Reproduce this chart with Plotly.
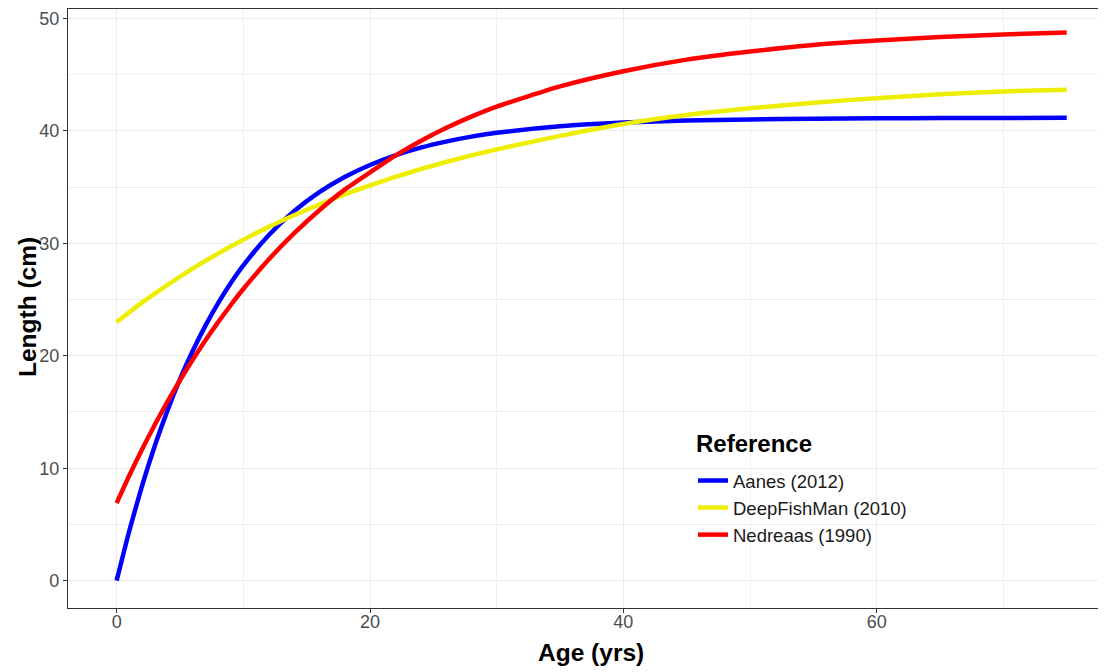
import plotly.graph_objects as go

# Ages (years)
ages = [0, 1, 2, 3, 4, 5, 6, 7, 8, 9, 10, 12, 14, 16, 18, 20, 22, 24, 26, 28,
        30, 35, 40, 45, 50, 55, 60, 65, 70, 75]

# Length (cm) per reference
aanes_2012 = [0.0, 4.44, 8.41, 11.95, 15.10, 17.91, 20.42, 22.66, 24.66, 26.44,
              28.03, 30.71, 32.84, 34.54, 35.89, 36.96, 37.82, 38.50, 39.04, 39.48,
              39.82, 40.40, 40.73, 40.91, 41.01, 41.07, 41.11, 41.13, 41.14, 41.15]
deepfishman_2010 = [23.0, 23.87, 24.72, 25.52, 26.29, 27.03, 27.75, 28.43, 29.08, 29.71,
                    30.31, 31.45, 32.49, 33.45, 34.34, 35.15, 35.90, 36.59, 37.23, 37.81,
                    38.35, 39.55, 40.60, 41.40, 42.00, 42.50, 42.90, 43.25, 43.50, 43.65]
nedreaas_1990 = [6.9, 9.35, 11.66, 13.84, 15.89, 17.82, 19.64, 21.36, 22.97, 24.49,
                 25.93, 28.55, 30.87, 32.94, 34.77, 36.30, 37.80, 39.10, 40.25, 41.26,
                 42.15, 43.95, 45.30, 46.33, 47.05, 47.63, 48.02, 48.34, 48.57, 48.73]

series_names = ["Aanes (2012)", "DeepFishMan (2010)", "Nedreaas (1990)"]
series_values = [aanes_2012, deepfishman_2010, nedreaas_1990]
series_colors = ["#0000FF", "#EEEE00", "#FF0000"]

x_tickvals = [0, 20, 40, 60]
x_ticktext = ["0", "20", "40", "60"]
y_tickvals = [0, 10, 20, 30, 40, 50]
y_ticktext = ["0", "10", "20", "30", "40", "50"]

FONT = "Liberation Sans, Arial, sans-serif"
# page body has an 8px margin; figure positioned to compensate
W, H = 1098, 664
ML, MR, MT, MB = 60, 0, 1, 64
OFF = 8
pw = W - ML - MR
ph = H - MT - MB


def px_x(sx):
    """screen x (window px) -> paper x"""
    return (sx - OFF - ML) / pw


def px_y(sy):
    """screen y (window px) -> paper y"""
    return (H - MB - (sy - OFF)) / ph


fig = go.Figure()
for name, vals, col in zip(series_names, series_values, series_colors):
    fig.add_trace(go.Scatter(
        x=ages, y=vals, mode="lines", name=name,
        line=dict(color=col, width=4.5, shape="spline", smoothing=0.6),
    ))

fig.update_layout(
    width=W, height=H,
    margin=dict(l=ML, r=MR, t=MT, b=MB, autoexpand=False),
    paper_bgcolor="white", plot_bgcolor="white",
    font=dict(family=FONT, size=18, color="#4D4D4D"),
    showlegend=True,
    legend=dict(
        x=px_x(693), y=px_y(508), xanchor="left", yanchor="middle",
        bgcolor="rgba(0,0,0,0)", borderwidth=0,
        font=dict(family=FONT, size=18.5, color="#1A1A1A"),
        tracegroupgap=0,
    ),
)

fig.update_xaxes(
    range=[-3.84, 78.1], automargin=False,
    tickvals=x_tickvals, ticktext=x_ticktext,
    showgrid=True, gridcolor="#EBEBEB", gridwidth=1.1,
    minor=dict(tickvals=[10, 30, 50, 70], showgrid=True, gridcolor="#F0F0F0", gridwidth=0.8, ticks=""),
    showline=True, linecolor="#333333", linewidth=1.1, mirror=True,
    ticks="outside", ticklen=4, tickcolor="#333333", tickwidth=1.1,
    tickfont=dict(family=FONT, size=18, color="#4D4D4D"),
    ticklabelstandoff=-7,
    zeroline=False,
)
fig.update_yaxes(
    range=[-2.43, 50.83], automargin=False,
    tickvals=y_tickvals, ticktext=y_ticktext,
    showgrid=True, gridcolor="#EBEBEB", gridwidth=1.1,
    minor=dict(tickvals=[5, 15, 25, 35, 45], showgrid=True, gridcolor="#F0F0F0", gridwidth=0.8, ticks=""),
    showline=True, linecolor="#333333", linewidth=1.1, mirror=False,
    ticks="outside", ticklen=4, tickcolor="#333333", tickwidth=1.1,
    tickfont=dict(family=FONT, size=18, color="#4D4D4D"),
    zeroline=False,
)

# White legend box
fig.add_shape(
    type="rect", xref="paper", yref="paper",
    x0=px_x(686), x1=px_x(917), y0=px_y(555), y1=px_y(420),
    fillcolor="white", line=dict(width=0), layer="below",
)
# Legend title
fig.add_annotation(
    text="Reference", xref="paper", yref="paper",
    x=px_x(694), y=px_y(443), xanchor="left", yanchor="middle",
    showarrow=False, font=dict(family=FONT, size=24, color="black", weight="bold"),
)
# Axis titles
fig.add_annotation(
    text="Age (yrs)", xref="paper", yref="paper",
    x=px_x(591), y=px_y(652), xanchor="center", yanchor="middle",
    showarrow=False, font=dict(family=FONT, size=24.5, color="black", weight="bold"),
)
fig.add_annotation(
    text="Length (cm)", xref="paper", yref="paper", textangle=-90,
    x=px_x(27), y=px_y(307), xanchor="center", yanchor="middle",
    showarrow=False, font=dict(family=FONT, size=24.5, color="black", weight="bold"),
)

fig.write_html("out.html", post_script="document.body.style.overflow='hidden';")
